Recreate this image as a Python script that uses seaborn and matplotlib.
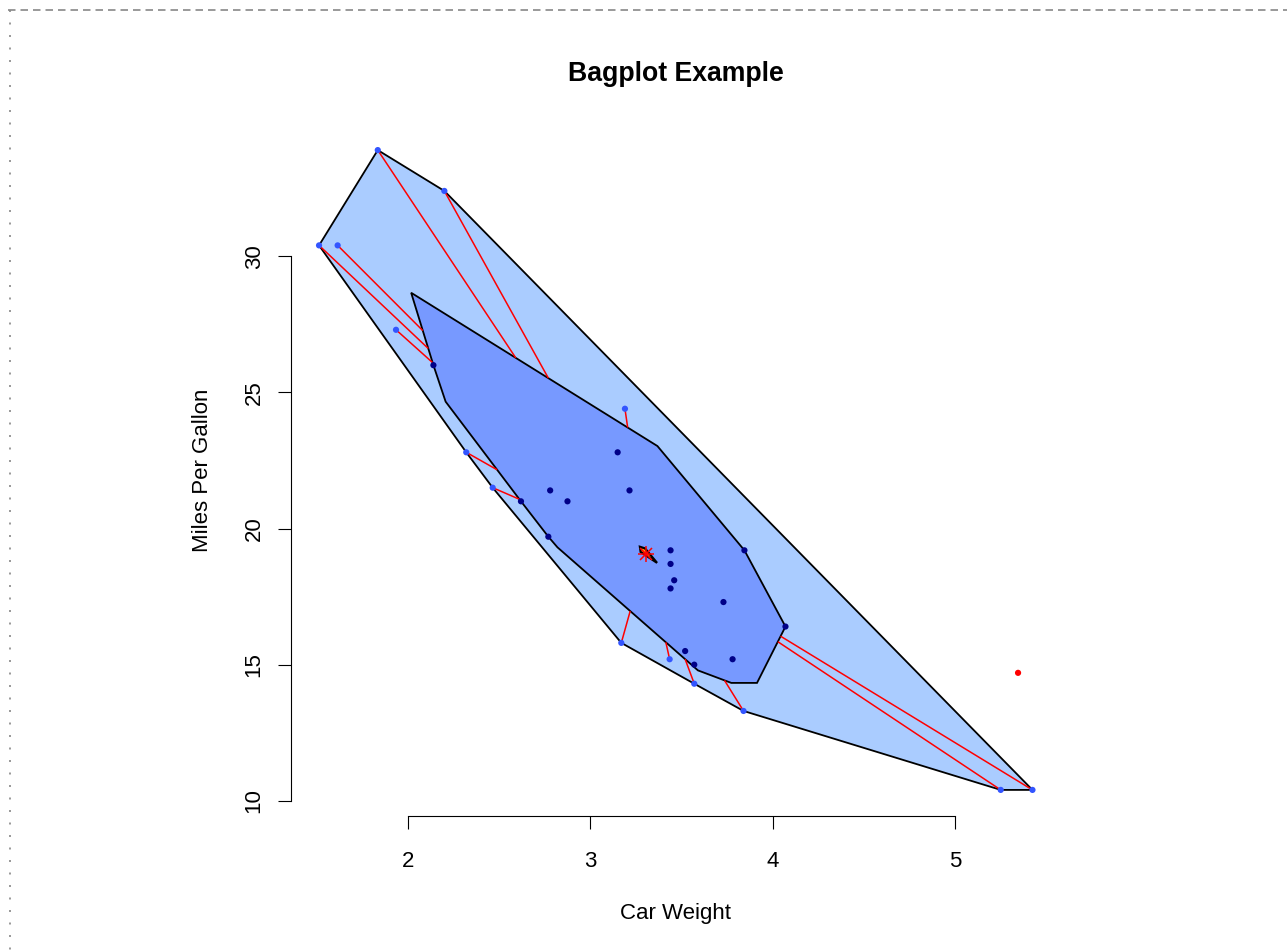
import numpy as np
import pandas as pd
import matplotlib
matplotlib.use("Agg")
import matplotlib.pyplot as plt
from matplotlib.lines import Line2D
from matplotlib.path import Path
from matplotlib.patches import Polygon
import seaborn as sns

# ---------------- data (mtcars: weight in 1000 lbs, miles per gallon) ----------------
cars = ["Mazda RX4", "Mazda RX4 Wag", "Datsun 710", "Hornet 4 Drive", "Hornet Sportabout",
        "Valiant", "Duster 360", "Merc 240D", "Merc 230", "Merc 280", "Merc 280C",
        "Merc 450SE", "Merc 450SL", "Merc 450SLC", "Cadillac Fleetwood",
        "Lincoln Continental", "Chrysler Imperial", "Fiat 128", "Honda Civic",
        "Toyota Corolla", "Toyota Corona", "Dodge Challenger", "AMC Javelin",
        "Camaro Z28", "Pontiac Firebird", "Fiat X1-9", "Porsche 914-2", "Lotus Europa",
        "Ford Pantera L", "Ferrari Dino", "Maserati Bora", "Volvo 142E"]
wt = [2.620, 2.875, 2.320, 3.215, 3.440, 3.460, 3.570, 3.190, 3.150, 3.440, 3.440,
      4.070, 3.730, 3.780, 5.250, 5.424, 5.345, 2.200, 1.615, 1.835, 2.465, 3.520,
      3.435, 3.840, 3.845, 1.935, 2.140, 1.513, 3.170, 2.770, 3.570, 2.780]
mpg = [21.0, 21.0, 22.8, 21.4, 18.7, 18.1, 14.3, 24.4, 22.8, 19.2, 17.8,
       16.4, 17.3, 15.2, 10.4, 10.4, 14.7, 32.4, 30.4, 33.9, 21.5, 15.5,
       15.2, 13.3, 19.2, 27.3, 26.0, 30.4, 15.8, 19.7, 15.0, 21.4]
outlier_cars = ["Chrysler Imperial"]

# bag (inner hull) vertices
bag_wt = [2.018, 2.140, 2.207, 2.620, 2.770, 2.820, 3.590, 3.773, 3.914, 4.070, 3.845, 3.368]
bag_mpg = [28.66, 26.00, 24.66, 21.00, 19.70, 19.31, 14.79, 14.33, 14.33, 16.40, 19.20, 23.03]

# depth median and the small center region
center_wt, center_mpg = 3.306, 19.06
center_region_wt = [3.272, 3.300, 3.366, 3.276]
center_region_mpg = [19.33, 19.27, 18.74, 19.14]

x_ticks = [2, 3, 4, 5]
y_ticks = [10, 15, 20, 25, 30]
title = "Bagplot Example"
xlabel = "Car Weight"
ylabel = "Miles Per Gallon"

# colours (aplpack defaults)
col_loophull = "#aaccff"
col_baghull = "#7799ff"
col_bagpoints = "#000088"
col_looppoints = "#3355ff"
col_outlier = "red"

# ---------------- helpers ----------------
def convex_hull(pts):
    pts = sorted(set(pts))
    def cross(o, a, b):
        return (a[0]-o[0])*(b[1]-o[1]) - (a[1]-o[1])*(b[0]-o[0])
    lower, upper = [], []
    for p in pts:
        while len(lower) >= 2 and cross(lower[-2], lower[-1], p) <= 0:
            lower.pop()
        lower.append(p)
    for p in reversed(pts):
        while len(upper) >= 2 and cross(upper[-2], upper[-1], p) <= 0:
            upper.pop()
        upper.append(p)
    return lower[:-1] + upper[:-1]

def seg_poly_first_hit(p, c, poly):
    p = np.asarray(p, float); c = np.asarray(c, float)
    d = c - p
    best = None
    n = len(poly)
    for i in range(n):
        a = np.asarray(poly[i], float); b = np.asarray(poly[(i+1) % n], float)
        e = b - a
        den = d[0]*e[1] - d[1]*e[0]
        if abs(den) < 1e-12:
            continue
        w = a - p
        t = (w[0]*e[1] - w[1]*e[0]) / den
        u = (w[0]*d[1] - w[1]*d[0]) / den
        if 0 <= t <= 1 and 0 <= u <= 1:
            if best is None or t < best:
                best = t
    if best is None:
        return c
    return p + best * d

df = pd.DataFrame({"car": cars, "wt": wt, "mpg": mpg})
rx = max(wt) - min(wt)
ry = max(mpg) - min(mpg)
bag_poly = list(zip(bag_wt, bag_mpg))
bag_path = Path(np.column_stack([bag_wt, bag_mpg]), closed=False)

def near_boundary(x, y, tol=0.006):
    q = np.array([x / rx, y / ry])
    n = len(bag_poly)
    for i in range(n):
        a = np.array([bag_poly[i][0] / rx, bag_poly[i][1] / ry])
        b = np.array([bag_poly[(i+1) % n][0] / rx, bag_poly[(i+1) % n][1] / ry])
        e = b - a
        t = np.clip(np.dot(q - a, e) / np.dot(e, e), 0, 1)
        if np.linalg.norm(q - (a + t*e)) < tol:
            return True
    return False

groups = []
for c, x, y in zip(cars, wt, mpg):
    if c in outlier_cars:
        groups.append("outlier")
    elif bag_path.contains_point((x, y)) or near_boundary(x, y):
        groups.append("bag")
    else:
        groups.append("loop")
df["group"] = groups

loop_hull = convex_hull([(x, y) for x, y, g in zip(wt, mpg, groups) if g != "outlier"])

# ---------------- figure ----------------
sns.set_style("white")
plt.rcParams["font.family"] = ["Liberation Sans", "DejaVu Sans"]
plt.rcParams["text.color"] = "black"
plt.rcParams["axes.labelcolor"] = "black"

W, H = 1287, 950
fig = plt.figure(figsize=(W/100, H/100), dpi=100)
left, right, top, bottom = 290.5, 1061, 124.5, 815.5
ax = fig.add_axes([left/W, 1 - bottom/H, (right-left)/W, (bottom-top)/H])

ax.add_patch(Polygon(loop_hull, closed=True, facecolor=col_loophull,
                     edgecolor="black", lw=1.3, zorder=1))
ax.add_patch(Polygon(bag_poly, closed=True, facecolor=col_baghull,
                     edgecolor="black", lw=1.3, zorder=2))

for x, y, g in zip(wt, mpg, groups):
    if g == "loop":
        hit = seg_poly_first_hit((x, y), (center_wt, center_mpg), bag_poly)
        ax.plot([x, hit[0]], [y, hit[1]], color="red", lw=1.1, zorder=3,
                solid_capstyle="butt")

sns.scatterplot(data=df, x="wt", y="mpg", hue="group",
                palette={"bag": col_bagpoints, "loop": col_looppoints, "outlier": col_outlier},
                s=20, edgecolor="none", linewidth=0, legend=False, ax=ax, zorder=4)

ax.add_patch(Polygon(list(zip(center_region_wt, center_region_mpg)), closed=True,
                     facecolor="orange", edgecolor="black", lw=1.6, zorder=5))
ax.plot([center_wt], [center_mpg], marker="+", ms=11, mew=1.1, color="red", zorder=6)
ax.plot([center_wt], [center_mpg], marker="x", ms=8, mew=1.1, color="red", zorder=6)

# limits as R does (4% extension)
ax.set_xlim(min(wt) - 0.04*rx, max(wt) + 0.04*rx)
ax.set_ylim(min(mpg) - 0.04*ry, max(mpg) + 0.04*ry)

for s in ["top", "right"]:
    ax.spines[s].set_visible(False)
for s in ["left", "bottom"]:
    ax.spines[s].set_linewidth(0.8)
    ax.spines[s].set_color("black")
ax.spines["bottom"].set_bounds(x_ticks[0], x_ticks[-1])
ax.spines["left"].set_bounds(y_ticks[0], y_ticks[-1])
ax.set_xticks(x_ticks)
ax.set_yticks(y_ticks)
ax.set_xticklabels([str(t) for t in x_ticks])
ax.set_yticklabels([str(t) for t in y_ticks], rotation=90, va="center")
ax.tick_params(axis="both", direction="out", length=9.6, width=0.8, color="black",
               labelsize=16, labelcolor="black", bottom=True, left=True)
ax.tick_params(axis="x", pad=16)
ax.tick_params(axis="y", pad=9)
ax.set_xlabel(xlabel, fontsize=16, labelpad=22, color="black")
ax.set_ylabel(ylabel, fontsize=16, labelpad=22, color="black")
ax.set_title(title, fontsize=19.2, fontweight="bold", pad=31, color="black")
ax.grid(False)

# dashed frame edges seen at the top and left of the picture
fig.add_artist(Line2D([8/W, 1], [1 - 10/H, 1 - 10/H], transform=fig.transFigure,
                      color="#888888", lw=1.2, dashes=(4.5, 3)))
fig.add_artist(Line2D([10/W, 10/W], [1 - 10/H, 0], transform=fig.transFigure,
                      color="#888888", lw=1.2, dashes=(1.2, 6.3)))

fig.savefig("out.png", dpi=100)
